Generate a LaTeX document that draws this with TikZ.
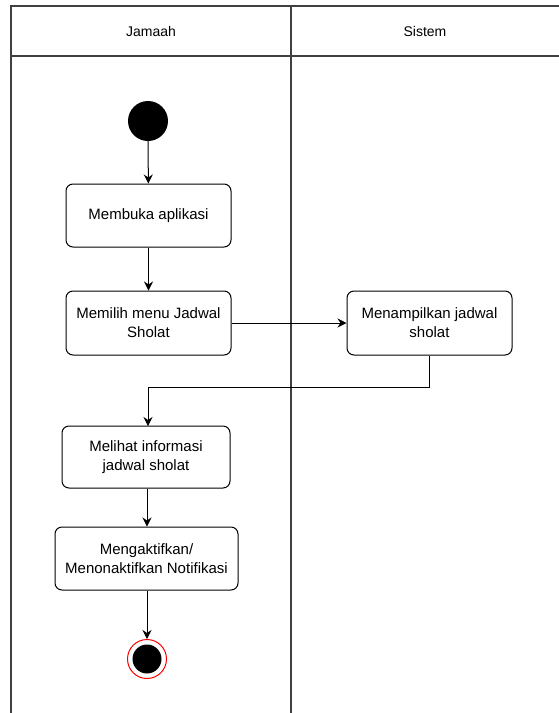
\documentclass[tikz,border=0pt]{standalone}
\usepackage{fontspec}
\setmainfont{Liberation Sans}
\usetikzlibrary{arrows.meta}
\tikzset{
  activity/.style={draw,rounded corners=7pt,line width=1pt,align=center,
    font=\fontsize{15}{19}\selectfont,inner sep=2pt},
  lane/.style={draw=black!75,line width=1.2pt},
  flow/.style={line width=1pt,-{Stealth[length=9pt,width=9pt,inset=3pt]}}
}
\begin{document}
\begin{tikzpicture}[x=1pt,y=-1pt]
\useasboundingbox (0,0) rectangle (559,713);

% swimlanes
\draw[lane] (11,713) -- (11,6) -- (559,6);
\draw[lane] (11,56) -- (559,56);
\draw[lane] (291,6) -- (291,713);
\node[font=\fontsize{14}{17}\selectfont] (jamaah) at (151,31) {Jamaah};
\node[font=\fontsize{14}{17}\selectfont] (sistem) at (425,31) {Sistem};

% nodes
\node[circle,fill=black,minimum size=40pt,inner sep=0pt] (start) at (148,121) {};
\node[activity,minimum width=165pt,minimum height=63pt] (buka) at (148.5,215.5) {Membuka aplikasi};
\node[activity,minimum width=165pt,minimum height=64pt] (pilih) at (148.5,323) {Memilih menu Jadwal\\Sholat};
\node[activity,minimum width=165pt,minimum height=64pt] (tampil) at (429.5,323) {Menampilkan jadwal\\sholat};
\node[activity,minimum width=168pt,minimum height=62pt] (lihat) at (146,457) {Melihat informasi\\jadwal sholat};
\node[activity,minimum width=183pt,minimum height=63pt] (notif) at (146.5,558.5) {Mengaktifkan/\\Menonaktifkan Notifikasi};
\node[circle,draw=red,line width=1pt,fill=white,minimum size=39pt,inner sep=0pt] (stop) at (147,659) {};
\node[circle,fill=black,minimum size=29pt,inner sep=0pt] (stopin) at (147,659) {};

% flows
\draw[flow] (start) -- (buka);
\draw[flow] (buka) -- (pilih);
\draw[flow] (pilih) -- (tampil);
\draw[flow] (tampil.south) |- (148,387) -- (148,426);
\draw[flow] (lihat.south -| 147,0) -- (notif.north -| 147,0);
\draw[flow] (notif.south -| 147,0) -- (stop.north);
\end{tikzpicture}
\end{document}
